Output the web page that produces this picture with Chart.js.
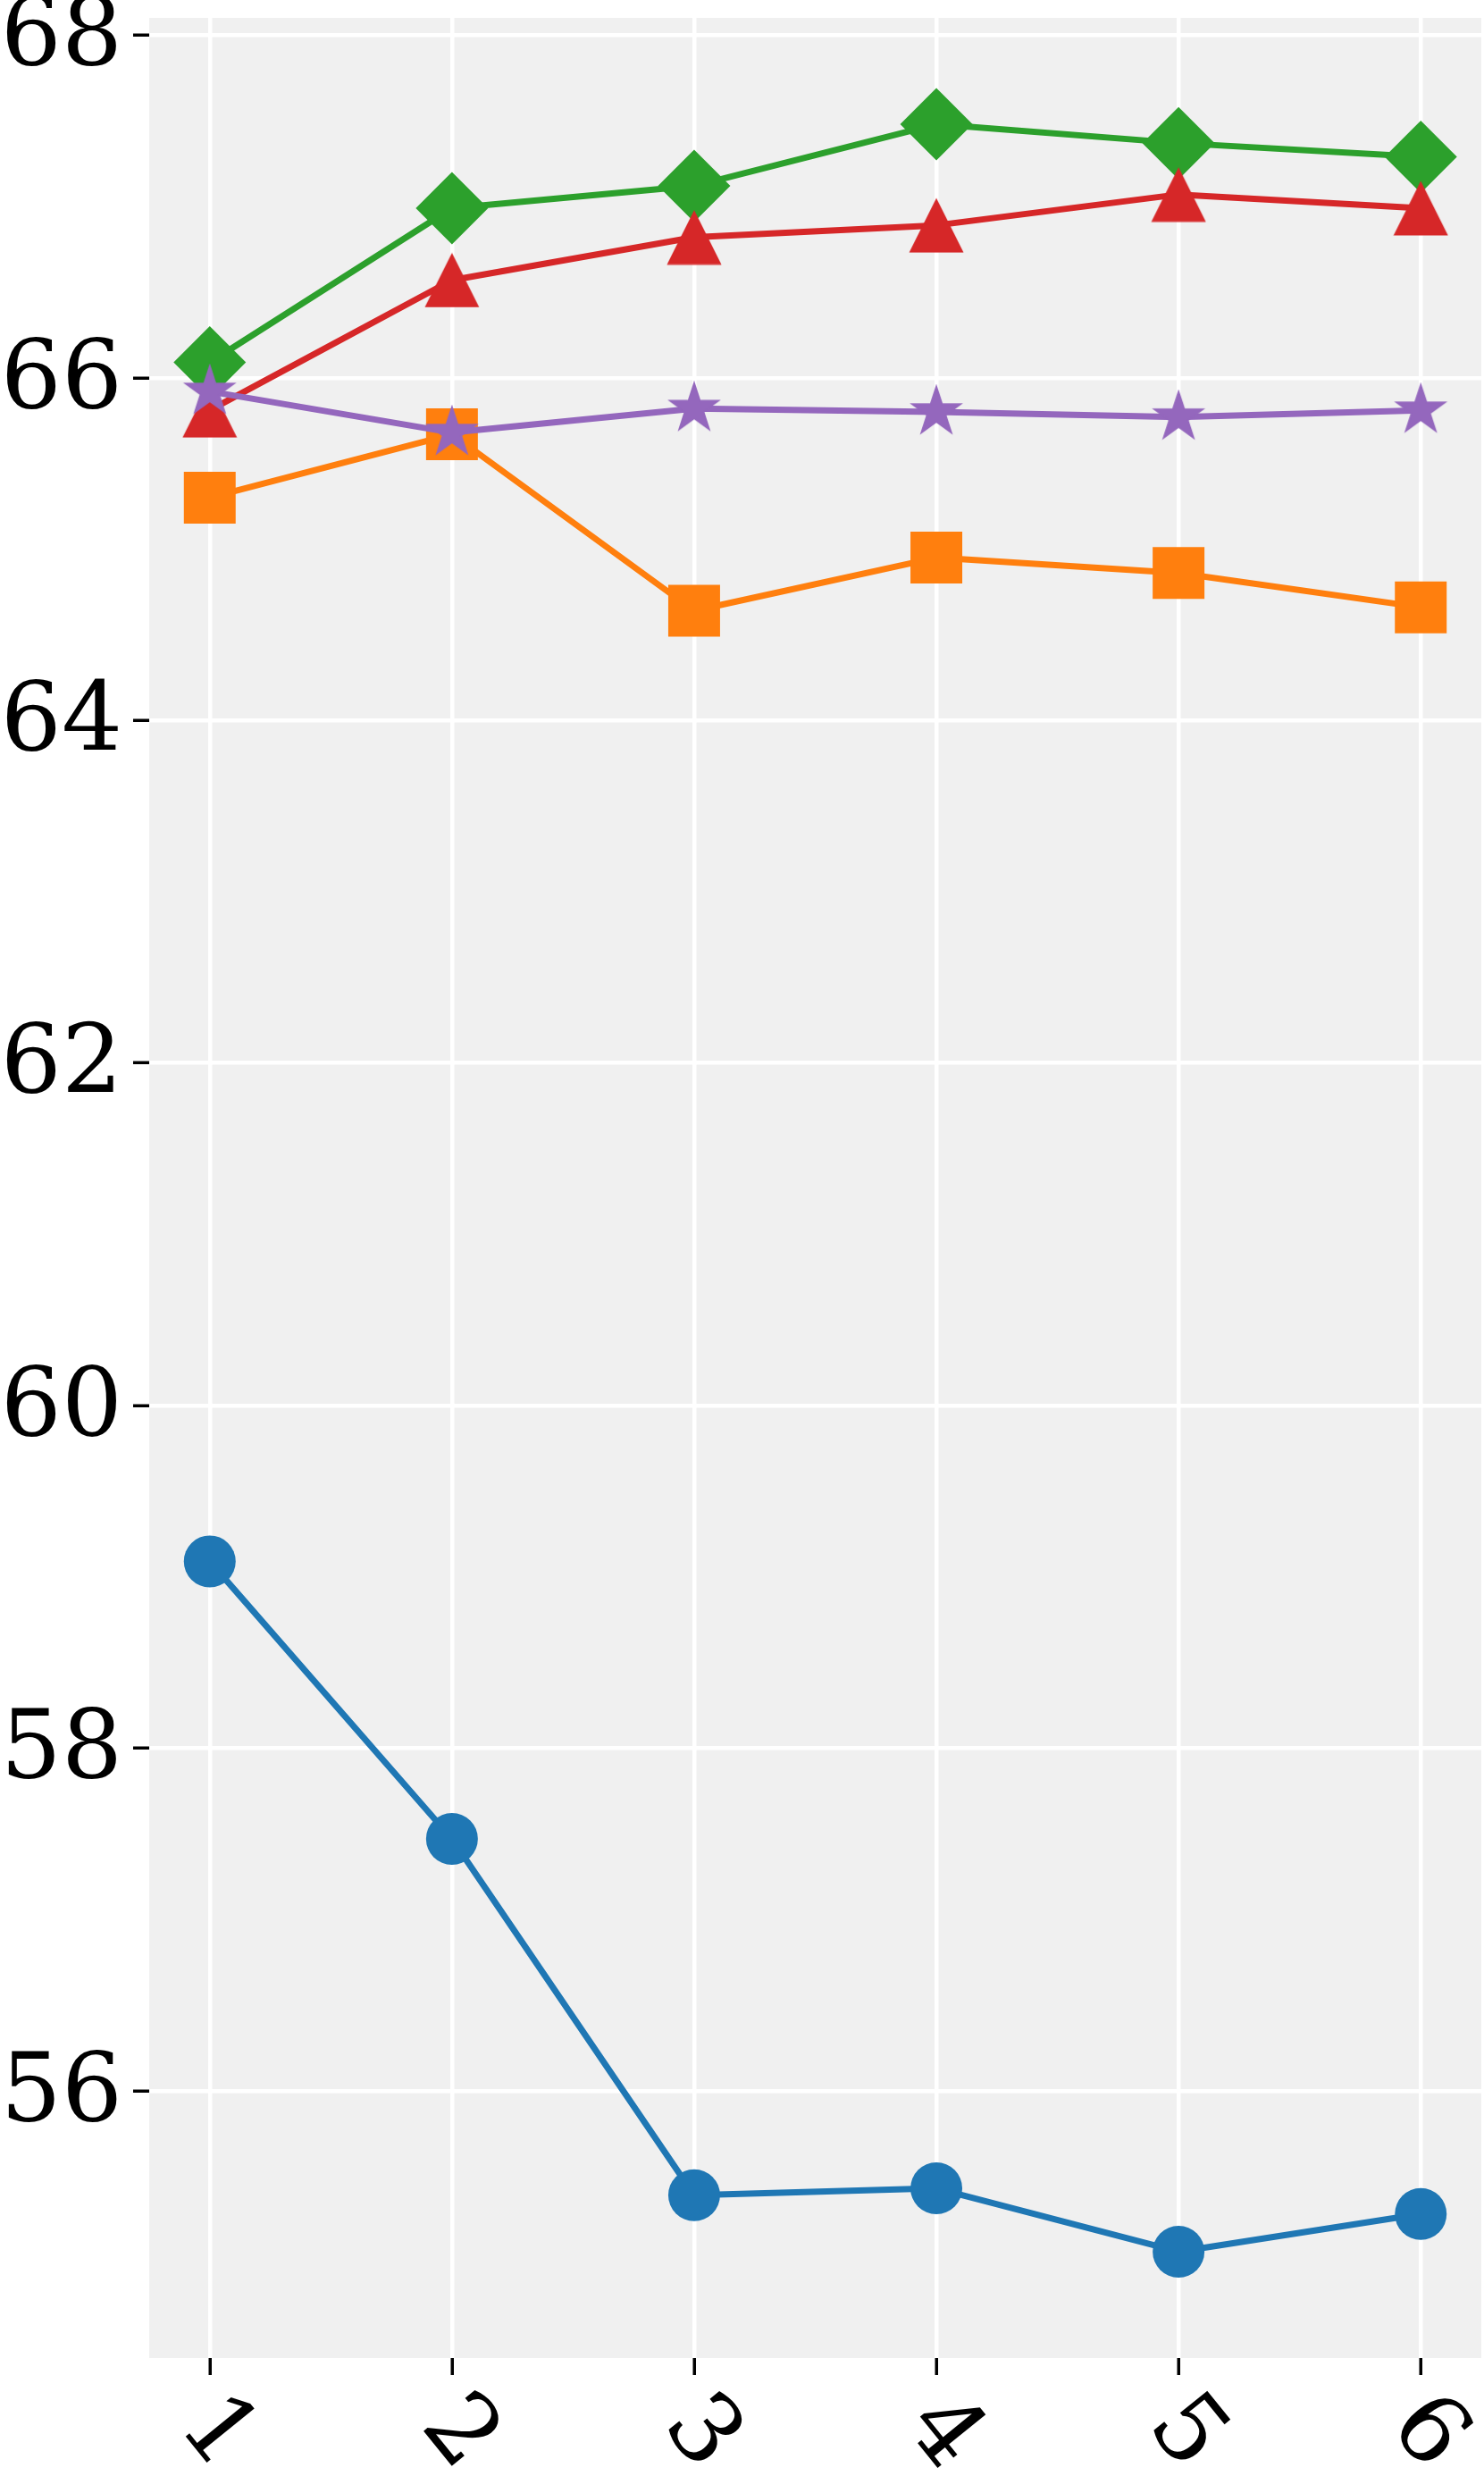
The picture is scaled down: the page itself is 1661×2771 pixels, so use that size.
<!DOCTYPE html>
<html><head><meta charset="utf-8">
<script src="https://cdn.jsdelivr.net/npm/chart.js@4.4.0/dist/chart.umd.min.js"></script>
<style>html,body{margin:0;padding:0;background:#fff;} canvas{display:block;}</style>
</head><body>
<canvas id="c" width="1661" height="2771" style="width:1661px;height:2771px"></canvas>
<script>
const categories = [1, 2, 3, 4, 5, 6];
const xTickLabels = ['1', '2', '3', '4', '5', '6'];
const yTickValues = [56, 58, 60, 62, 64, 66, 68];
const seriesBlue   = [59.09, 57.47, 55.39, 55.43, 55.06, 55.28];
const seriesOrange = [65.30, 65.67, 64.64, 64.95, 64.86, 64.66];
const seriesGreen  = [66.09, 66.99, 67.12, 67.48, 67.37, 67.29];
const seriesRed    = [65.81, 66.57, 66.82, 66.89, 67.07, 66.99];
const seriesPurple = [65.92, 65.68, 65.82, 65.80, 65.77, 65.81];

function makeTriangle(color, s) {
  const c = document.createElement('canvas');
  c.width = s; c.height = s;
  const g = c.getContext('2d');
  g.fillStyle = color;
  g.beginPath();
  g.moveTo(s / 2, 0.5);
  g.lineTo(0.5, s - 0.5);
  g.lineTo(s - 0.5, s - 0.5);
  g.closePath();
  g.fill();
  return c;
}
function makeStar(color, R) {
  const s = Math.ceil(2 * R + 4);
  const c = document.createElement('canvas');
  c.width = s; c.height = s;
  const g = c.getContext('2d');
  g.fillStyle = color;
  g.strokeStyle = color;
  g.lineWidth = 1.5;
  g.lineJoin = 'miter';
  g.beginPath();
  const cx = s / 2, cy = s / 2, r = R * 0.381966;
  for (let i = 0; i < 10; i++) {
    const a = -Math.PI / 2 + i * Math.PI / 5;
    const rr = i % 2 === 0 ? R : r;
    const px = cx + rr * Math.cos(a), py = cy + rr * Math.sin(a);
    if (i === 0) g.moveTo(px, py); else g.lineTo(px, py);
  }
  g.closePath();
  g.fill();
  g.stroke();
  return c;
}

const C0 = '#1f77b4', C1 = '#ff7f0e', C2 = '#2ca02c', C3 = '#d62728', C4 = '#9467bd';
const toXY = arr => categories.map((c, i) => ({ x: c, y: arr[i] }));

const bgPlugin = {
  id: 'bg',
  beforeDraw(chart) {
    const a = chart.chartArea, ctx = chart.ctx;
    ctx.save();
    ctx.fillStyle = '#f0f0f0';
    ctx.fillRect(a.left, a.top, a.right - a.left, a.bottom - a.top);
    ctx.restore();
  }
};

const LW = 7;
function ds(data, color, style, radius, order) {
  return {
    data: toXY(data), borderColor: color, backgroundColor: color,
    borderWidth: LW, borderJoinStyle: 'round', tension: 0,
    pointStyle: style, pointRadius: radius, pointHoverRadius: radius,
    pointBackgroundColor: color, pointBorderColor: color, pointBorderWidth: 0,
    order: order, clip: false
  };
}

const font = { family: 'DejaVu Serif', size: 107 };

new Chart(document.getElementById('c'), {
  type: 'line',
  data: {
    datasets: [
      ds(seriesBlue, C0, 'circle', 29, 5),
      ds(seriesOrange, C1, 'rect', 41, 4),
      ds(seriesGreen, C2, 'rectRot', 40.5, 3),
      ds(seriesRed, C3, makeTriangle(C3, 62), 31, 2),
      ds(seriesPurple, C4, makeStar(C4, 29), 28, 1)
    ]
  },
  options: {
    responsive: false,
    animation: false,
    devicePixelRatio: 1,
    layout: { autoPadding: false, padding: { top: 20, right: 3, left: 0, bottom: 0 } },
    plugins: { legend: { display: false }, tooltip: { enabled: false } },
    scales: {
      x: {
        type: 'linear', min: 0.75, max: 6.25,
        afterBuildTicks: s => { s.ticks = categories.map(v => ({ value: v })); },
        afterFit: s => { s.height = 132; s.paddingLeft = 0; s.paddingRight = 0; },
        border: { display: false },
        grid: { color: '#ffffff', lineWidth: 4.5, tickColor: '#000000', tickLength: 19, tickWidth: 3.5 },
        ticks: {
          font: font, color: '#000000', autoSkip: false,
          minRotation: -51, maxRotation: -51, padding: 52, labelOffset: 28,
          callback: v => xTickLabels[categories.indexOf(v)]
        }
      },
      y: {
        type: 'linear', min: 54.439, max: 68.101,
        afterBuildTicks: s => { s.ticks = yTickValues.map(v => ({ value: v })); },
        afterFit: s => { s.width = 167; s.paddingTop = 0; s.paddingBottom = 0; },
        border: { display: false },
        grid: { color: '#ffffff', lineWidth: 4.5, tickColor: '#000000', tickLength: 18, tickWidth: 3.5 },
        ticks: { font: font, color: '#000000', padding: 12, labelOffset: 5, callback: v => String(v) }
      }
    }
  },
  plugins: [bgPlugin]
});
</script>
</body></html>
